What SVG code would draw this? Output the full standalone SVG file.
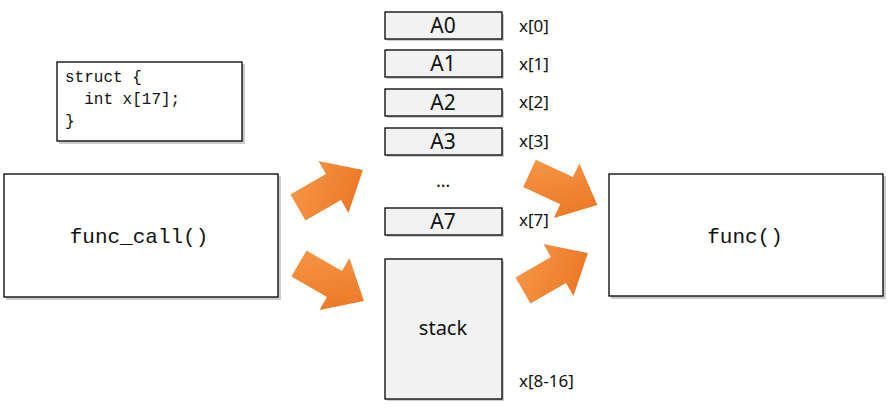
<svg xmlns="http://www.w3.org/2000/svg" width="893" height="408" viewBox="0 0 893 408">
<style>
.b{fill:#fff;stroke:#000;stroke-width:1.3}
.r{fill:#f2f2f2;stroke:#000;stroke-width:1.3}
.sh{fill:#999;opacity:.5}
.m{font-family:"Liberation Mono",monospace;fill:#111}
.s{font-family:"Noto Sans","DejaVu Sans",sans-serif;fill:#111}
.a{fill:url(#g)}
</style>
<defs>
<linearGradient id="g" x1="0" y1="0" x2="1" y2="1"><stop offset="0" stop-color="#f79a4a"/><stop offset="1" stop-color="#e8711e"/></linearGradient>
<path id="ar" d="M-37,-15 H4 V-30 L38,0 L4,30 V15 H-37 Z"/>
</defs>
<g id="code"><rect class="sh" x="59" y="64" width="186" height="80"/><rect class="b" x="57" y="62" width="185" height="79"/>
<text class="m" font-size="16" xml:space="preserve"><tspan x="65" y="82">struct {</tspan><tspan x="65" y="104">  int x[17];</tspan><tspan x="65" y="126">}</tspan></text></g>
<g id="func_call"><rect class="sh" x="6" y="176" width="275" height="124"/><rect class="b" x="4" y="174" width="274" height="123"/><text class="m" font-size="21" x="139" y="243" text-anchor="middle">func_call()</text></g>
<g id="func"><rect class="sh" x="611" y="176" width="275" height="123"/><rect class="b" x="609" y="174" width="274" height="122"/><text class="m" font-size="21" x="745" y="243" text-anchor="middle">func()</text></g>
<g id="regs">
<rect class="sh" x="387" y="14" width="117" height="27"/><rect class="r" x="385" y="12" width="117" height="27"/><text class="s" font-size="21" x="443" y="33" text-anchor="middle">A0</text>
<rect class="sh" x="387" y="52" width="117" height="27"/><rect class="r" x="385" y="50" width="117" height="27"/><text class="s" font-size="21" x="443" y="71" text-anchor="middle">A1</text>
<rect class="sh" x="387" y="91" width="117" height="27"/><rect class="r" x="385" y="89" width="117" height="27"/><text class="s" font-size="21" x="443" y="110" text-anchor="middle">A2</text>
<rect class="sh" x="387" y="130" width="117" height="27"/><rect class="r" x="385" y="128" width="117" height="27"/><text class="s" font-size="21" x="443" y="149" text-anchor="middle">A3</text>
<text class="s" font-size="18" x="443" y="187" text-anchor="middle">…</text>
<rect class="sh" x="387" y="210" width="117" height="27"/><rect class="r" x="385" y="208" width="117" height="27"/><text class="s" font-size="21" x="443" y="229" text-anchor="middle">A7</text>
</g>
<g id="stack"><rect class="sh" x="387" y="261" width="117" height="140"/><rect class="r" x="385" y="259" width="117" height="140"/><text class="s" font-size="20" x="443" y="335" text-anchor="middle">stack</text></g>
<g id="labels" class="s" font-size="17">
<text x="519" y="32">x[0]</text><text x="519" y="70">x[1]</text><text x="519" y="108">x[2]</text><text x="519" y="147">x[3]</text><text x="519" y="226">x[7]</text><text x="519" y="387">x[8-16]</text>
</g>
<g id="connectors">
<use href="#ar" class="a" transform="translate(330,189) rotate(-30)"/>
<use href="#ar" class="a" transform="translate(331,282) rotate(30)"/>
<use href="#ar" class="a" transform="translate(563,189) rotate(25)"/>
<use href="#ar" class="a" transform="translate(555,272) rotate(-30)"/>
</g>
</svg>
